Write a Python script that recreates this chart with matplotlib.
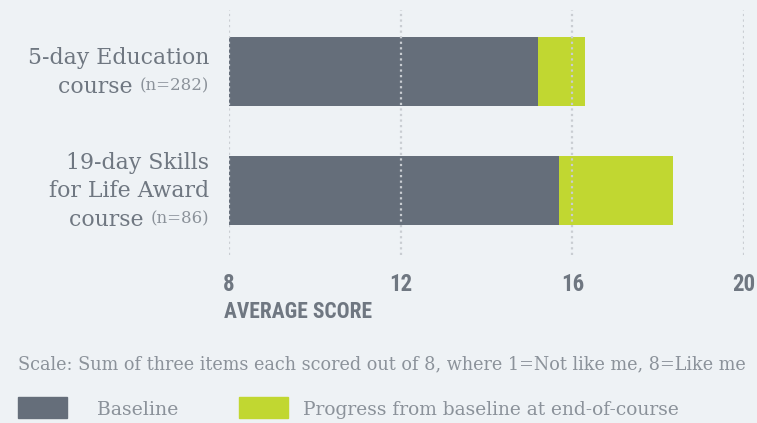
import matplotlib.pyplot as plt

categories = [["5-day Education", "course"], ["19-day Skills", "for Life Award", "course"]]
sample_sizes = ["(n=282)", "(n=86)"]
baseline = [15.2, 15.7]
end_course = [16.3, 18.35]
ticks = [8, 12, 16, 20]

bg = "#eef2f5"
grey = "#656e7a"
green = "#c1d731"
txt = "#6f7781"
light = "#8b929a"
serif = ["DejaVu Serif"]
cond = ["DejaVu Sans Condensed", "Roboto Condensed", "Liberation Sans Narrow", "Roboto"]

W, H = 757, 423
fig = plt.figure(figsize=(W / 100, H / 100), dpi=100, facecolor=bg)
ax = fig.add_axes([229 / W, 1 - 255 / H, (744 - 229) / W, (255 - 10) / H])
ax.set_facecolor(bg)

y = list(range(len(baseline)))
progress = [e - b for b, e in zip(baseline, end_course)]
ax.barh(y, [b - ticks[0] for b in baseline], left=ticks[0], height=0.58, color=grey, zorder=1)
ax.barh(y, progress, left=baseline, height=0.58, color=green, zorder=1)

ax.set_xlim(ticks[0], ticks[-1])
ax.set_ylim(1.542, -0.517)
ax.set_xticks(ticks)
ax.set_xticklabels([str(t) for t in ticks], family=cond, fontweight="bold",
                   fontstretch="condensed", fontsize=16.5, color=txt)
ax.tick_params(axis="x", length=0, pad=13)
ax.set_yticks([])
for s in ax.spines.values():
    s.set_visible(False)
ax.set_axisbelow(False)
ax.grid(axis="x", color="#c9cdd2", linewidth=1.6, linestyle=(0, (1, 1.5)))

# category labels, right aligned left of the axis
xlab = ticks[0] + (209 - 229) / 515 * (ticks[-1] - ticks[0])
for i, lines in enumerate(categories):
    n = len(lines)
    lh = 28 / 119  # line height in data units
    y0 = i - lh * (n - 1) / 2
    for j, line in enumerate(lines[:-1]):
        ax.text(xlab, y0 + j * lh, line, ha="right", va="center",
                family=serif, fontsize=15.8, color=txt)
    ntext = ax.text(xlab, y0 + (n - 1) * lh, sample_sizes[i],
                    ha="right", va="center", family=serif, fontsize=12, color=light)
    ax.annotate(lines[-1] + " ", xy=(0, 0.42), xycoords=ntext, ha="right", va="center",
                family=serif, fontsize=15.8, color=txt)

fig.text(224 / W, 1 - 312 / H, "AVERAGE SCORE", ha="left", va="center", family=cond,
         fontweight="bold", fontstretch="condensed", fontsize=15.5, color=txt)
fig.text(18 / W, 1 - 364 / H, "Scale: Sum of three items each scored out of 8, where 1=Not like me, 8=Like me",
         ha="left", va="center", family=serif, fontsize=12.7, color=light)

# legend
fig.patches.append(plt.Rectangle((18 / W, 1 - 418 / H), 49 / W, 21 / H, transform=fig.transFigure,
                                 color=grey, figure=fig))
fig.text(97 / W, 1 - 410 / H, "Baseline", ha="left", va="center", family=serif, fontsize=13.6, color=light)
fig.patches.append(plt.Rectangle((239 / W, 1 - 418 / H), 49 / W, 21 / H, transform=fig.transFigure,
                                 color=green, figure=fig))
fig.text(303 / W, 1 - 410 / H, "Progress from baseline at end-of-course", ha="left", va="center",
         family=serif, fontsize=13.4, color=light)

fig.savefig("out.png", dpi=100, facecolor=bg)
